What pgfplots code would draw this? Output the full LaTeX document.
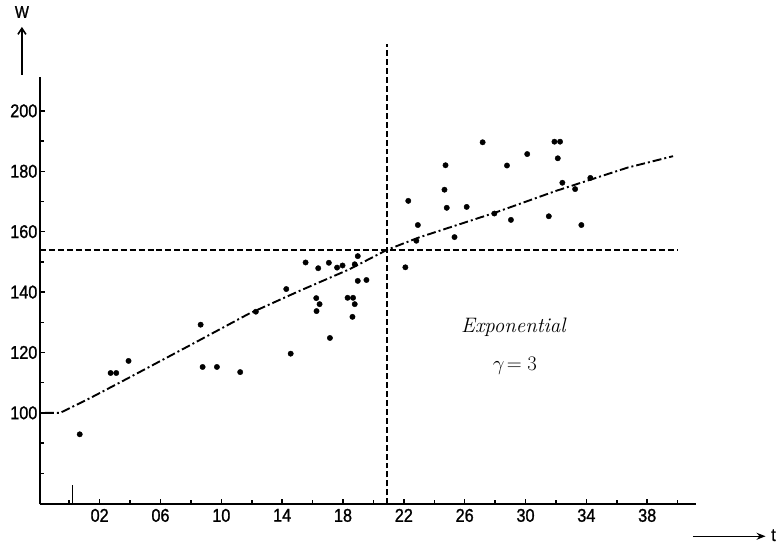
\documentclass[border=0pt]{standalone}
\usepackage{fontspec}
\usepackage{pgfplots}
\pgfplotsset{compat=1.18}
\usetikzlibrary{arrows.meta}
\newfontfamily\tickfont[FakeStretch=0.88,FakeBold=1.2]{Liberation Sans}
\begin{document}
\begin{tikzpicture}
\begin{axis}[
  at={(0,0)}, anchor=south west,
  scale only axis, width=658pt, height=429pt,
  xmin=-1.93, xmax=41.19, ymin=69.7, ymax=211.3,
  axis lines*=left,
  axis line style={line width=2pt},
  clip=false,
  xtick={2,6,...,38},
  xticklabels={02,06,10,14,18,22,26,30,34,38},
  minor xtick={0,4,...,40},
  ytick={100,120,...,200},
  minor ytick={80,90,110,130,150,170,190},
  tick align=inside,
  major tick length=5pt, minor tick length=4pt,
  every tick/.style={line width=1.5pt, black},
  extra x ticks={0.2}, extra x tick labels={},
  extra x tick style={major tick length=19pt},
  /pgf/number format/assume math mode=true,
  tick label style={font=\tickfont\fontsize{18.5}{20}\selectfont},
  yticklabel style={xshift=1pt},
  xticklabel style={yshift=-1pt},
]
% crosshair
\addplot[black, line width=1.7pt, dash pattern=on 6pt off 3pt] coordinates {(20.9,69.7) (20.9,222)};
\addplot[black, line width=1.7pt, dash pattern=on 6pt off 3pt] coordinates {(-1.93,154) (40,154)};
% fitted curve
\addplot[black, line width=1.9pt, dash pattern=on 9pt off 3pt on 2pt off 3pt] coordinates {
(-1.6,100) (-0.6,100) (1.3,104.7) (3.8,111.3) (7.8,122) (11.8,132.8) (15.1,140.3) (18.4,147.5) (20.9,154) (23,158.1) (28,166.3) (32,173.5) (36.7,181.2) (39.7,185)};
% data
\addplot[only marks, mark=*, mark size=2.7pt, black] coordinates {
(0.69,92.9) (2.72,113.2) (3.09,113.2) (3.9,117.2) (8.64,129.2) (8.77,115.2) (9.71,115.2) (11.24,113.5)
(12.27,133.5) (14.27,141) (14.56,119.6) (15.54,149.8) (16.37,147.9) (16.24,138) (16.46,136) (16.26,133.7)
(17.07,149.7) (17.14,124.8) (17.61,148.1) (17.97,148.8) (18.3,138.1) (18.66,138.1) (18.77,136) (18.62,131.8)
(18.77,149.2) (18.97,151.9) (18.97,143.7) (19.54,144)
(22.1,148.2) (22.29,170.2) (22.92,162.2) (22.82,157) (24.74,182) (24.67,173.9) (24.82,167.9) (25.33,158.2)
(26.13,168.2) (27.18,189.6) (27.95,166) (28.78,181.9) (29.04,163.9) (30.11,185.7) (31.53,165.1) (31.9,189.8)
(32.27,189.8) (32.12,184.3) (32.42,176.2) (33.26,174.1) (33.67,162.2) (34.26,177.8)};
\node[font=\itshape\fontsize{21}{23}\selectfont] at (axis cs:29.2,128.5) {Exponential};
\node[font=\fontsize{22}{24}\selectfont] at (axis cs:29.3,115.5) {$\gamma\!= 3$};
\end{axis}
% axis arrows and labels
\draw[line width=1.6pt, -{Straight Barb[length=6pt,width=8pt]}] (-18pt,431pt) -- (-18pt,479pt);
\node[font=\tickfont\fontsize{17}{19}\selectfont] at (-18pt,494pt) {W};
\draw[line width=1.3pt, -{Stealth[length=9pt,width=7pt]}] (655pt,-32pt) -- (728pt,-32pt);
\node[font=\tickfont\fontsize{18}{20}\selectfont] at (736pt,-31pt) {t};
\path[use as bounding box] (-40pt,-44pt) rectangle (739pt,506pt);
\end{tikzpicture}
\end{document}
